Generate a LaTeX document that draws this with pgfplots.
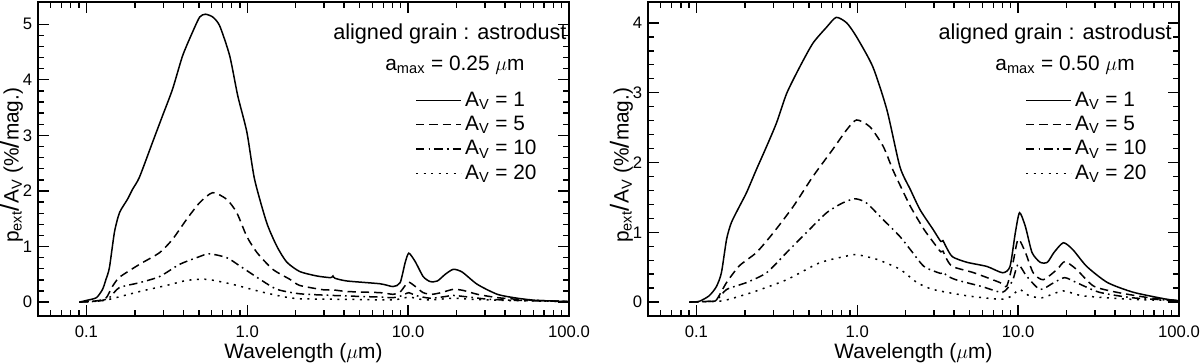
\documentclass[border=0pt]{standalone}
\usepackage{fontspec}
\setmainfont{Liberation Sans}
\usepackage{pgfplots}
\pgfplotsset{compat=1.18}

% left panel, a_max = 0.25 um
\pgfplotstableread{
lam y
0.0905 0.0
0.1 0.03
0.1154 0.08
0.126 0.23
0.132 0.40
0.139 0.62
0.1494 1.26
0.1606 1.61
0.180 1.85
0.1936 2.03
0.2138 2.25
0.258 2.88
0.297 3.35
0.343 3.83
0.396 4.43
0.457 4.86
0.506 5.13
0.549 5.18
0.610 5.13
0.674 4.97
0.778 4.43
0.873 3.71
0.994 3.06
1.11 2.21
1.32 1.43
1.53 1.0
1.76 0.72
2.12 0.55
2.71 0.47
3.3 0.44
3.41 0.47
3.5 0.43
4.17 0.38
6.69 0.33
8.06 0.28
8.92 0.35
9.58 0.71
10.1 0.88
11.06 0.73
12.4 0.46
13.7 0.37
15.2 0.38
17.0 0.50
19.1 0.59
21.7 0.54
26.9 0.32
35.9 0.14
47.8 0.07
63.7 0.03
100 0.01
}\Lone
\pgfplotstableread{
lam y
0.0905 0
0.104 0.01
0.120 0.03
0.133 0.08
0.145 0.28
0.161 0.45
0.214 0.68
0.285 0.89
0.343 1.13
0.42 1.49
0.506 1.79
0.61 1.97
0.745 1.85
0.86 1.61
0.994 1.18
1.15 0.89
1.44 0.59
1.84 0.41
2.12 0.30
3.0 0.22
3.41 0.22
4.2 0.19
6.7 0.17
8.06 0.14
8.9 0.18
9.6 0.30
10.1 0.36
11.1 0.28
12.4 0.17
14.0 0.14
16.0 0.17
19.1 0.23
22 0.21
27 0.14
36 0.08
48 0.05
64 0.03
100 0.01
}\Lfive
\pgfplotstableread{
lam y
0.0905 0
0.12 0.02
0.139 0.08
0.16 0.26
0.214 0.35
0.285 0.46
0.38 0.68
0.506 0.82
0.58 0.87
0.745 0.80
0.90 0.65
1.2 0.41
1.53 0.23
2.12 0.15
3.4 0.12
6.7 0.09
8.06 0.08
9.0 0.11
10.1 0.17
11.1 0.12
13.7 0.07
17 0.10
19.1 0.12
24 0.09
32 0.05
50 0.03
100 0.01
}\Lten
\pgfplotstableread{
lam y
0.0905 0
0.12 0.02
0.139 0.05
0.214 0.19
0.315 0.30
0.42 0.39
0.56 0.41
0.81 0.32
1.2 0.19
1.66 0.10
2.12 0.06
4 0.05
8 0.04
10.1 0.09
12 0.05
14 0.04
19 0.07
25 0.05
40 0.03
100 0.01
}\Ltwenty

% right panel, a_max = 0.50 um
\pgfplotstableread{
lam y
0.0905 0
0.104 0.01
0.12 0.09
0.133 0.22
0.143 0.42
0.154 0.90
0.165 1.14
0.185 1.37
0.205 1.57
0.236 1.90
0.273 2.23
0.315 2.57
0.364 2.99
0.439 3.37
0.53 3.71
0.645 3.94
0.74 4.08
0.86 4.0
0.99 3.8
1.25 3.37
1.53 2.75
1.84 1.94
2.14 1.61
2.46 1.32
2.96 1.04
3.3 0.87
3.41 0.88
3.55 0.80
3.9 0.65
4.8 0.57
6.4 0.51
8.0 0.42
8.9 0.51
9.6 0.99
10.2 1.28
11.1 1.08
12.2 0.71
13.7 0.57
15.2 0.57
16.7 0.71
19.1 0.85
21.9 0.75
26.7 0.51
35.9 0.28
52 0.14
84 0.04
100 0.02
}\Rone
\pgfplotstableread{
lam y
0.0905 0
0.12 0.01
0.133 0.03
0.154 0.28
0.185 0.52
0.236 0.71
0.30 0.99
0.40 1.37
0.53 1.80
0.70 2.18
0.86 2.47
0.99 2.61
1.2 2.51
1.45 2.23
1.66 1.90
1.84 1.68
2.14 1.37
2.6 1.04
3.1 0.80
3.3 0.72
3.41 0.73
3.55 0.64
3.9 0.51
5.3 0.42
7.7 0.28
8.5 0.23
9.3 0.57
10.0 0.90
11.1 0.71
12.4 0.42
14.3 0.32
17.5 0.47
19.5 0.58
23 0.47
29.4 0.23
41 0.14
66 0.06
100 0.02
}\Rfive
\pgfplotstableread{
lam y
0.0905 0
0.12 0.01
0.133 0.02
0.154 0.18
0.205 0.28
0.273 0.42
0.364 0.71
0.48 0.99
0.645 1.28
0.81 1.42
0.97 1.48
1.14 1.42
1.45 1.18
1.84 0.94
2.14 0.75
2.6 0.51
3.3 0.41
3.41 0.43
3.6 0.38
4.1 0.32
6.0 0.22
8.0 0.14
9.2 0.30
10.0 0.54
11.3 0.37
13.7 0.18
16.7 0.28
19.5 0.35
23 0.28
32 0.14
52 0.06
100 0.02
}\Rten
\pgfplotstableread{
lam y
0.0905 0
0.133 0.01
0.154 0.03
0.223 0.14
0.364 0.32
0.58 0.56
0.86 0.66
0.99 0.68
1.33 0.61
1.84 0.47
2.35 0.28
2.96 0.18
4.8 0.09
7.7 0.04
9.0 0.08
10.2 0.18
11.5 0.10
14 0.06
19 0.16
25 0.09
50 0.04
100 0.02
}\Rtwenty

\newcommand{\fs}{\fontsize{10}{12}\selectfont}
\newcommand{\fl}{\fontsize{12.5}{15}\selectfont}
\newcommand{\bigsl}{{\fontsize{15.5}{15.5}\selectfont /}}

% common settings for both panels
\pgfplotsset{
  scale only axis, width=318.6pt, height=188.4pt,
  xmin=0.05, xmax=100,
  xtick={0.1,1,10,100}, xticklabels={0.1,1.0,10.0,100.0},
  minor xtick={0.05,0.06,0.07,0.08,0.09,0.2,0.3,0.4,0.5,0.6,0.7,0.8,0.9,
               2,3,4,5,6,7,8,9,20,30,40,50,60,70,80,90},
  minor y tick num=4,
  major tick length=6.5pt, minor tick length=3.5pt,
  axis line style={line width=1pt},
  every tick/.style={black, line width=0.8pt},
  tick label style={font=\fs},
  xticklabel style={yshift=-2.5pt},
  /pgf/number format/assume math mode=true,
  xlabel={Wavelength ($\mu$m)},
  ylabel={p\textsubscript{ext}\bigsl A\textsubscript{V} (\%\bigsl mag.)},
  every axis x label/.style={at={(axis description cs:0.5,-0.118)},anchor=center,font=\fl},
  every axis y label/.style={at={(axis description cs:-0.050,0.48)},rotate=90,anchor=center,font=\fl},
  legend style={draw=none, fill=none, at={(rel axis cs:0.71,0.725)}, anchor=north west,
                font=\fl, row sep=0.4pt, inner sep=0pt},
  legend cell align=left,
  legend image code/.code={\draw[#1] (0pt,0pt) -- (22pt,0pt); \path (0pt,0pt) -- (27pt,0pt);},
  every axis plot/.append style={black, line width=0.9pt, smooth, tension=0.4},
}
\tikzset{
  s1/.style={solid},
  s5/.style={dash pattern=on 5pt off 3pt},
  s10/.style={dash pattern=on 5pt off 2.5pt on 1pt off 2.5pt},
  s20/.style={dash pattern=on 1.2pt off 3.3pt},
}

\begin{document}
\begin{tikzpicture}
\useasboundingbox (-22.8pt,-28.2pt) rectangle (697.2pt,189.6pt);
\begin{semilogxaxis}[at={(0pt,0pt)}, anchor=south west,
  ymin=-0.25, ymax=5.4, ytick={0,1,2,3,4,5}]
  \addplot[s1] table[x=lam,y=y] {\Lone};
  \addlegendentry{A\textsubscript{V} = 1}
  \addplot[s5] table[x=lam,y=y] {\Lfive};
  \addlegendentry{A\textsubscript{V} = 5}
  \addplot[s10] table[x=lam,y=y] {\Lten};
  \addlegendentry{A\textsubscript{V} = 10}
  \addplot[s20] table[x=lam,y=y] {\Ltwenty};
  \addlegendentry{A\textsubscript{V} = 20}
  \node[anchor=east, font=\fontsize{13}{15}\selectfont, inner sep=0pt] at (rel axis cs:0.996,0.90) {aligned grain : astrodust};
  \node[anchor=east, font=\fl, inner sep=0pt] at (rel axis cs:0.917,0.80) {a\textsubscript{max} = 0.25 $\mu$m};
\end{semilogxaxis}
\begin{semilogxaxis}[at={(366pt,0pt)}, anchor=south west,
  ymin=-0.2, ymax=4.3, ytick={0,1,2,3,4}]
  \addplot[s1] table[x=lam,y=y] {\Rone};
  \addlegendentry{A\textsubscript{V} = 1}
  \addplot[s5] table[x=lam,y=y] {\Rfive};
  \addlegendentry{A\textsubscript{V} = 5}
  \addplot[s10] table[x=lam,y=y] {\Rten};
  \addlegendentry{A\textsubscript{V} = 10}
  \addplot[s20] table[x=lam,y=y] {\Rtwenty};
  \addlegendentry{A\textsubscript{V} = 20}
  \node[anchor=east, font=\fontsize{13}{15}\selectfont, inner sep=0pt] at (rel axis cs:0.987,0.90) {aligned grain : astrodust};
  \node[anchor=east, font=\fl, inner sep=0pt] at (rel axis cs:0.917,0.80) {a\textsubscript{max} = 0.50 $\mu$m};
\end{semilogxaxis}
\end{tikzpicture}
\end{document}
